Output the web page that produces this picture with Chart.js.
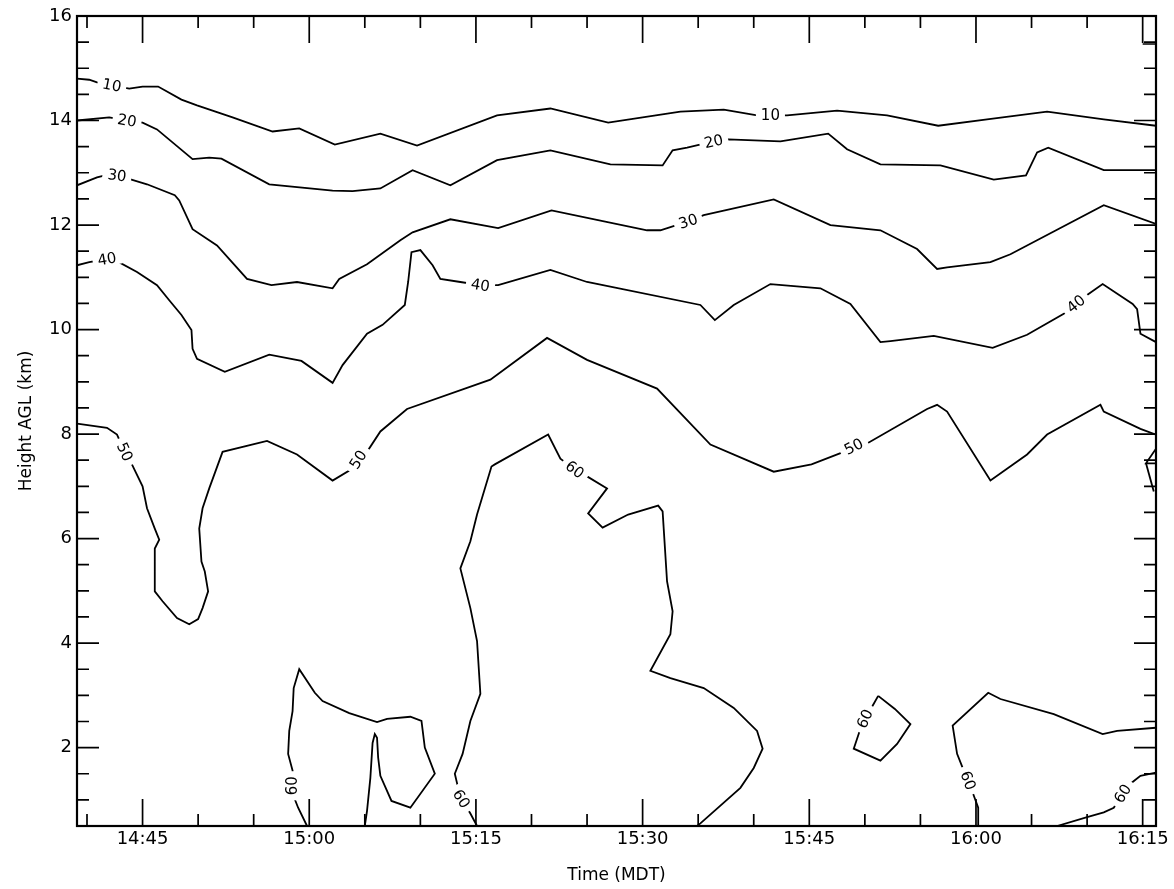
<!DOCTYPE html>
<html>
<head>
<meta charset="utf-8">
<title>Height AGL contours</title>
<script src="https://cdn.jsdelivr.net/npm/chart.js@4.4.1/dist/chart.umd.min.js"></script>
<style>
    html, body { margin: 0; padding: 0; background: #fff; }
    canvas { display: block; }
</style>
</head>
<body>
<canvas id="contourChart" width="1174" height="889"></canvas>
<script>
(function () {
    'use strict';

    // ── Data: [minutes after 14:00, height km] ───────────────────────
    var c10 = [[39.1,14.80],[40.2,14.78],[40.9,14.73],[43.8,14.61],[45.0,14.65],[46.4,14.65],[48.5,14.40],[49.9,14.29],
        [53.1,14.06],[56.7,13.79],[59.1,13.85],[62.3,13.54],[66.4,13.75],[69.7,13.52],[76.9,14.10],[81.7,14.23],
        [86.9,13.96],[93.4,14.17],[97.3,14.21],[100.3,14.10],[103.0,14.10],[107.5,14.19],[112.0,14.10],[116.6,13.90],
        [121.0,14.02],[126.4,14.17],[131.5,14.02],[136.2,13.90]];

    var c20 = [[39.1,14.00],[42.0,14.06],[43.6,14.00],[45.0,13.96],[46.3,13.83],[49.5,13.26],[51.0,13.29],[52.1,13.27],
        [56.4,12.78],[62.1,12.66],[63.9,12.65],[66.4,12.70],[69.3,13.05],[72.7,12.76],[76.9,13.24],[81.7,13.43],
        [87.1,13.16],[91.8,13.14],[92.7,13.43],[94.0,13.48],[96.4,13.60],[97.7,13.64],[102.4,13.60],[106.7,13.75],
        [108.4,13.45],[111.4,13.16],[116.8,13.14],[121.6,12.87],[124.5,12.95],[125.5,13.39],[126.5,13.48],
        [131.5,13.05],[136.2,13.05]];

    var c30 = [[39.1,12.76],[40.9,12.91],[42.0,12.97],[42.7,12.95],[44.0,12.87],[45.4,12.78],[47.9,12.57],[48.3,12.47],
        [49.5,11.92],[51.7,11.61],[54.4,10.97],[56.6,10.85],[58.9,10.91],[62.1,10.79],[62.7,10.97],[65.2,11.25],
        [68.2,11.71],[69.3,11.86],[72.7,12.11],[77.0,11.94],[81.8,12.28],[90.4,11.90],[91.6,11.90],[94.1,12.07],
        [95.5,12.19],[101.8,12.49],[106.9,12.00],[111.4,11.90],[114.7,11.54],[116.5,11.16],[117.4,11.19],
        [121.3,11.29],[123.1,11.44],[131.5,12.38],[136.2,12.02]];

    var c40 = [[39.1,11.23],[40.2,11.29],[41.8,11.35],[42.7,11.31],[44.5,11.10],[46.3,10.85],[47.4,10.56],[48.5,10.28],
        [49.4,9.99],[49.5,9.63],[49.9,9.44],[52.4,9.19],[56.4,9.52],[59.3,9.40],[62.1,8.98],[63.0,9.32],[65.2,9.92],
        [66.6,10.09],[68.6,10.47],[68.9,10.91],[69.2,11.48],[70.0,11.52],[71.1,11.23],[71.8,10.97],[73.6,10.91],
        [75.4,10.85],[77.0,10.85],[81.7,11.14],[85.0,10.91],[95.2,10.47],[96.5,10.18],[98.2,10.47],[101.5,10.87],
        [106.0,10.79],[108.7,10.49],[111.4,9.76],[112.3,9.78],[116.2,9.88],[121.5,9.65],[124.6,9.90],[127.9,10.30],
        [129.0,10.49],[130.0,10.66],[131.4,10.87],[134.1,10.49],[134.5,10.39],[134.8,9.92],[136.2,9.76]];

    var c50 = [[39.1,8.20],[41.8,8.12],[42.7,7.99],[43.4,7.66],[44.0,7.44],[45.0,7.00],[45.4,6.58],[46.1,6.19],
        [46.5,5.98],[46.1,5.81],[46.1,5.56],[46.1,4.99],[46.8,4.80],[48.1,4.48],[49.2,4.36],[50.0,4.46],[50.4,4.67],
        [50.9,4.99],[50.6,5.37],[50.3,5.56],[50.1,6.19],[50.4,6.58],[51.0,6.96],[52.2,7.66],[56.2,7.87],[58.9,7.61],
        [62.1,7.11],[63.9,7.34],[64.4,7.51],[65.2,7.66],[66.4,8.05],[68.8,8.48],[76.3,9.04],[81.4,9.84],[85.0,9.42],
        [91.3,8.87],[96.1,7.80],[101.8,7.28],[105.2,7.42],[108.1,7.66],[109.0,7.76],[110.2,7.82],[115.6,8.48],
        [116.5,8.56],[117.4,8.43],[121.3,7.11],[124.6,7.61],[126.4,7.99],[131.2,8.56],[131.5,8.43],[134.8,8.10],
        [136.2,7.99]];
    var c50b = [[136.2,7.72],[135.3,7.44],[136.2,7.44]];
    var c50c = [[135.3,7.44],[136.0,6.90]];

    var c60a = [[59.8,0.5],[59.0,0.85],[58.5,1.12],[58.5,1.27],[58.5,1.56],[58.1,1.88],[58.2,2.32],[58.5,2.70],
        [58.6,3.14],[59.1,3.50],[60.5,3.05],[61.2,2.89],[63.6,2.66],[66.1,2.49],[67.0,2.55],[69.1,2.59],[70.1,2.51],
        [70.4,2.00],[71.3,1.50],[69.1,0.85],[67.4,0.98],[66.4,1.46],[66.2,1.81],[66.1,2.19],[65.9,2.26],[65.7,2.09],
        [65.5,1.42],[65.2,0.79],[65.0,0.5]];

    var c60b = [[75.1,0.5],[74.5,0.74],[73.7,1.02],[73.4,1.23],[73.1,1.50],[73.8,1.88],[74.5,2.51],[75.4,3.03],
        [75.1,4.04],[74.5,4.67],[73.6,5.43],[74.5,5.95],[75.1,6.46],[76.4,7.38],[76.7,7.42],[81.5,7.99],[82.6,7.53],
        [83.9,7.32],[85.0,7.19],[86.8,6.96],[85.1,6.48],[86.4,6.21],[88.7,6.46],[91.4,6.63],[91.8,6.52],[92.2,5.18],
        [92.7,4.61],[92.5,4.17],[90.7,3.47],[92.5,3.33],[95.5,3.14],[98.2,2.76],[100.3,2.32],[100.8,1.98],
        [100.0,1.61],[98.8,1.23],[95.2,0.55],[94.9,0.5]];

    var c60c = [[111.2,2.99],[112.7,2.74],[114.1,2.45],[112.9,2.07],[111.4,1.75],[109.0,1.98],[109.6,2.36],
        [110.0,2.55],[110.7,2.80],[111.2,2.99]];

    var c60d = [[120.2,0.5],[120.2,0.85],[119.7,1.14],[119.3,1.37],[118.9,1.56],[118.3,1.88],[117.9,2.42],
        [121.1,3.05],[122.2,2.93],[127.0,2.64],[131.4,2.26],[132.7,2.32],[136.2,2.38]];

    var c60e = [[127.3,0.5],[130.0,0.67],[131.5,0.76],[132.4,0.85],[133.2,1.12],[133.9,1.31],[134.8,1.46],[136.2,1.52]];

    // contour labels: [text, minutes, km]
    var contourLabels = [
        ['10', 42.2, 14.63], ['10', 101.5, 14.10],
        ['20', 43.6, 14.00], ['20', 96.4, 13.60],
        ['30', 42.7, 12.95], ['30', 94.1, 12.07],
        ['40', 41.8, 11.35], ['40', 75.4, 10.85], ['40', 129.0, 10.49],
        ['50', 43.4, 7.66], ['50', 64.4, 7.51], ['50', 109.0, 7.76],
        ['60', 58.5, 1.27], ['60', 83.9, 7.32], ['60', 73.7, 1.02],
        ['60', 110.0, 2.55], ['60', 119.3, 1.37], ['60', 133.2, 1.12]
    ];

    // axes
    var xMin = 39.1, xMax = 136.2;
    var yMin = 0.5, yMax = 16;
    var xTickValues = [45, 60, 75, 90, 105, 120, 135];
    var xTickLabels = ['14:45', '15:00', '15:15', '15:30', '15:45', '16:00', '16:15'];
    var yTickValues = [2, 4, 6, 8, 10, 12, 14, 16];
    var xMinorStep = 5, yMinorStep = 0.5;

    var FONT = "'DejaVu Sans', sans-serif";

    // ── Build datasets ───────────────────────────────────────────────
    var pieces = [c10, c20, c30, c40, c50, c50b, c50c, c60a, c60b, c60c, c60d, c60e];
    var datasets = pieces.map(function (p) {
        return {
            data: p.map(function (pt) { return { x: pt[0], y: pt[1] }; }),
            borderColor: '#000',
            borderWidth: 1.8,
            pointRadius: 0,
            showLine: true,
            fill: false,
            tension: 0
        };
    });

    // ── Plugin: inward ticks, frame and contour labels ───────────────
    var contourPlugin = {
        id: 'contourDecor',
        afterDatasetsDraw: function (chart) {
            var ctx = chart.ctx;
            var xs = chart.scales.x, ys = chart.scales.y;

            // pixel polylines
            var lines = pieces.map(function (p) {
                return p.map(function (pt) { return [xs.getPixelForValue(pt[0]), ys.getPixelForValue(pt[1])]; });
            });

            ctx.save();
            ctx.font = '15px ' + FONT;
            ctx.textAlign = 'center';
            ctx.textBaseline = 'middle';
            contourLabels.forEach(function (lb) {
                var px = xs.getPixelForValue(lb[1]), py = ys.getPixelForValue(lb[2]);
                var best = null;
                lines.forEach(function (ln) {
                    for (var i = 0; i < ln.length - 1; i++) {
                        var ax = ln[i][0], ay = ln[i][1], bx = ln[i + 1][0], by = ln[i + 1][1];
                        var dx = bx - ax, dy = by - ay, l2 = dx * dx + dy * dy;
                        if (!l2) continue;
                        var t = Math.max(0, Math.min(1, ((px - ax) * dx + (py - ay) * dy) / l2));
                        var qx = ax + t * dx, qy = ay + t * dy;
                        var d = (qx - px) * (qx - px) + (qy - py) * (qy - py);
                        if (!best || d < best.d) best = { d: d, x: qx, y: qy, ang: Math.atan2(dy, dx) };
                    }
                });
                if (!best) return;
                var ang = best.ang;
                if (ang > Math.PI / 2) ang -= Math.PI;
                if (ang < -Math.PI / 2) ang += Math.PI;
                var w = ctx.measureText(lb[0]).width;
                ctx.save();
                ctx.translate(best.x, best.y);
                ctx.rotate(ang);
                ctx.fillStyle = '#fff';
                ctx.fillRect(-w / 2 - 5, -7, w + 10, 14);
                ctx.fillStyle = '#000';
                ctx.fillText(lb[0], 0, 1);
                ctx.restore();
            });
            ctx.restore();
        },
        afterDraw: function (chart) {
            var ctx = chart.ctx, a = chart.chartArea;
            var xs = chart.scales.x, ys = chart.scales.y;
            ctx.save();
            ctx.strokeStyle = '#000';
            ctx.lineWidth = 1.7;
            ctx.beginPath();
            var v, p, len;
            for (v = 40; v <= 135; v += xMinorStep) {
                p = xs.getPixelForValue(v);
                len = xTickValues.indexOf(v) >= 0 ? 27 : 12;
                ctx.moveTo(p, a.bottom); ctx.lineTo(p, a.bottom - len);
                ctx.moveTo(p, a.top); ctx.lineTo(p, a.top + len);
            }
            for (v = 1; v < yMax; v += yMinorStep) {
                p = ys.getPixelForValue(v);
                len = yTickValues.indexOf(v) >= 0 ? 22 : 12;
                ctx.moveTo(a.left, p); ctx.lineTo(a.left + len, p);
                ctx.moveTo(a.right, p); ctx.lineTo(a.right - len, p);
            }
            // small boxes closing the last column at the corners
            p = xs.getPixelForValue(135);
            ctx.moveTo(p, a.top + 28); ctx.lineTo(a.right, a.top + 28);
            ctx.moveTo(p, a.bottom - 26); ctx.lineTo(a.right, a.bottom - 26);
            ctx.stroke();

            ctx.lineWidth = 2.2;
            ctx.strokeRect(a.left, a.top, a.right - a.left, a.bottom - a.top);
            ctx.restore();
        }
    };

    // ── Chart ────────────────────────────────────────────────────────
    new Chart(document.getElementById('contourChart'), {
        type: 'line',
        data: { datasets: datasets },
        plugins: [contourPlugin],
        options: {
            responsive: false,
            animation: false,
            events: [],
            layout: { padding: { top: 16, right: 18, left: 0, bottom: 0 } },
            plugins: {
                legend: { display: false },
                tooltip: { enabled: false }
            },
            scales: {
                x: {
                    type: 'linear',
                    min: xMin,
                    max: xMax,
                    grid: { display: false, drawTicks: false },
                    border: { display: false },
                    afterBuildTicks: function (s) {
                        s.ticks = xTickValues.map(function (v) { return { value: v }; });
                    },
                    afterFit: function (s) { s.height = 63; },
                    ticks: {
                        autoSkip: false,
                        maxRotation: 0,
                        padding: 3,
                        color: '#000',
                        font: { family: FONT, size: 18 },
                        callback: function (v) {
                            var i = xTickValues.indexOf(v);
                            return i >= 0 ? xTickLabels[i] : '';
                        }
                    },
                    title: {
                        display: true,
                        text: 'Time (MDT)',
                        color: '#000',
                        font: { family: FONT, size: 17 },
                        padding: { top: 0, bottom: 3 }
                    }
                },
                y: {
                    type: 'linear',
                    min: yMin,
                    max: yMax,
                    grid: { display: false, drawTicks: false },
                    border: { display: false },
                    afterBuildTicks: function (s) {
                        s.ticks = yTickValues.map(function (v) { return { value: v }; });
                    },
                    afterFit: function (s) { s.width = 77; },
                    ticks: {
                        autoSkip: false,
                        padding: 5,
                        color: '#000',
                        font: { family: FONT, size: 18 },
                        callback: function (v) { return String(v); }
                    },
                    title: {
                        display: true,
                        text: 'Height AGL (km)',
                        color: '#000',
                        font: { family: FONT, size: 17 },
                        padding: { top: 16, bottom: 0 }
                    }
                }
            }
        }
    });
})();
</script>
</body>
</html>
